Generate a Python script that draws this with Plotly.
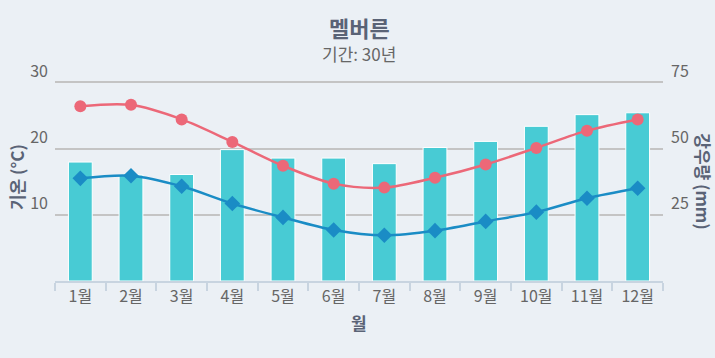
import plotly.graph_objects as go

months = ["1월", "2월", "3월", "4월", "5월", "6월", "7월", "8월", "9월", "10월", "11월", "12월"]
temp_max = [26.4, 26.6, 24.4, 21.0, 17.4, 14.7, 14.1, 15.6, 17.6, 20.1, 22.7, 24.4]
temp_min = [15.5, 15.9, 14.3, 11.7, 9.6, 7.7, 6.9, 7.6, 9.0, 10.4, 12.5, 14.0]
rainfall = [44.9, 40.0, 40.2, 49.6, 46.4, 46.4, 44.3, 50.4, 52.7, 58.4, 62.8, 63.5]

temp_ticks = [10, 20, 30]
rain_ticks = [25, 50, 75]

FONT = "Noto Sans CJK KR, Noto Sans, sans-serif"
DARK = "#5a6376"
GREY = "#666666"

fig = go.Figure()
fig.add_trace(go.Bar(
    x=months, y=rainfall, name="강우량", yaxis="y",
    marker=dict(color="#48cbd4", line=dict(color="#ffffff", width=1)),
))
fig.add_trace(go.Scatter(
    x=months, y=temp_max, name="최고 기온", yaxis="y2", mode="lines+markers",
    line=dict(color="#ec6878", width=2.5, shape="spline", smoothing=0.9),
    marker=dict(symbol="circle", size=12, color="#ec6878"),
))
fig.add_trace(go.Scatter(
    x=months, y=temp_min, name="최저 기온", yaxis="y2", mode="lines+markers",
    line=dict(color="#1a8cc5", width=2.5, shape="spline", smoothing=0.9),
    marker=dict(symbol="diamond", size=12, color="#1a8cc5"),
))

# plot area: x 55..662, y ~81..281
fig.update_layout(
    width=715, height=358,
    margin=dict(l=55, r=52, t=81, b=77, autoexpand=False),
    paper_bgcolor="#ebf0f5", plot_bgcolor="#ebf0f5",
    showlegend=False,
    bargap=0.53,
    font=dict(family=FONT, color=GREY, size=14),
    xaxis=dict(
        type="category", automargin=False, range=[-0.5, len(months) - 0.5],
        showline=True, linecolor="#c8d4e0", linewidth=2,
        ticks="outside", tickson="boundaries", ticklen=8, tickcolor="#c8d4e0", tickwidth=1.5,
        showgrid=False, tickfont=dict(size=16, color=GREY), ticklabelstandoff=0,
    ),
    yaxis=dict(
        side="right", automargin=False, range=[0, 75.5], tickvals=rain_ticks,
        ticktext=[str(v) for v in rain_ticks],
        showgrid=True, gridcolor="#c4c4c4", gridwidth=1.5, zeroline=False, showline=False,
        ticklabelposition="outside top", ticklabelstandoff=7, tickfont=dict(size=16, color=GREY),
    ),
    yaxis2=dict(
        side="left", overlaying="y", automargin=False, range=[0, 30.2], tickvals=temp_ticks,
        ticktext=[str(v) for v in temp_ticks],
        showgrid=False, zeroline=False, showline=False,
        ticklabelposition="outside top", ticklabelstandoff=6, tickfont=dict(size=16, color=GREY),
    ),
    annotations=[
        dict(text="<b>멜버른</b>", xref="paper", yref="paper", x=0.5, y=1.27, xanchor="center", yanchor="middle",
             showarrow=False, font=dict(size=22, color=DARK, family=FONT)),
        dict(text="기간: 30년", xref="paper", yref="paper", x=0.5, y=1.138, xanchor="center", yanchor="middle",
             showarrow=False, font=dict(size=17, color=GREY, family=FONT)),
        dict(text="<b>월</b>", xref="paper", yref="paper", x=0.5, y=-0.205, xanchor="center", yanchor="middle",
             showarrow=False, font=dict(size=17, color=DARK, family=FONT)),
        dict(text="<b>기온 (°C)</b>", xref="paper", yref="paper", x=-0.064, y=0.52, xanchor="center", yanchor="middle",
             textangle=-90, showarrow=False, font=dict(size=17, color=DARK, family=FONT)),
        dict(text="<b>강우량 (mm)</b>", xref="paper", yref="paper", x=1.067, y=0.5, xanchor="center", yanchor="middle",
             textangle=90, showarrow=False, font=dict(size=17, color=DARK, family=FONT)),
    ],
)

fig.write_html(
    "out.html",
    config={"displayModeBar": False},
    post_script="document.body.style.margin='0px'; document.body.style.overflow='hidden';",
)
